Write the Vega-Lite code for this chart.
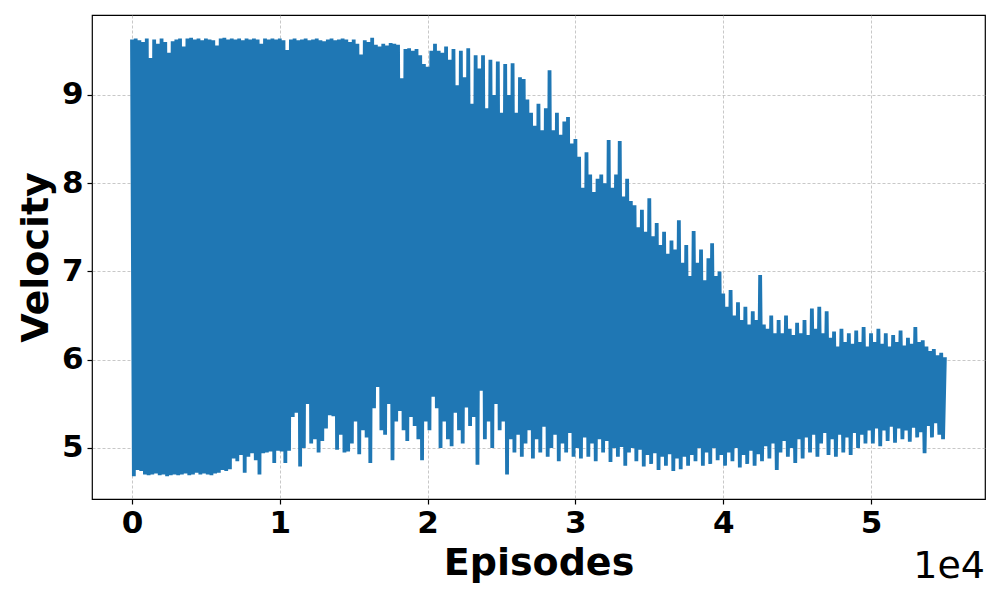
{
  "$schema": "https://vega.github.io/schema/vega-lite/v6.json",
  "autosize": {"type": "none"},
  "padding": {"left": 92, "top": 15, "right": 15, "bottom": 101},
  "width": 893,
  "height": 484,
  "background": "white",
  "title": {"text": "1e4", "orient": "bottom", "anchor": "end", "fontSize": 38, "fontWeight": "normal", "font": "DejaVu Sans", "color": "black", "offset": -34},
  "config": {
    "view": {"stroke": "black", "strokeWidth": 1.2},
    "axis": {
      "labelFont": "DejaVu Sans", "labelFontWeight": "bold", "labelFontSize": 31, "labelColor": "black",
      "titleFont": "DejaVu Sans", "titleFontWeight": "bold", "titleFontSize": 38, "titleColor": "black",
      "tickColor": "black", "tickSize": 5, "tickWidth": 1.2, "labelPadding": 4,
      "domain": false,
      "grid": true, "gridColor": "#b0b0b0", "gridDash": [3, 2], "gridWidth": 0.7
    }
  },
  "data": {"values": [
{"e":0,"v":9.63},{"e":125,"v":4.68},{"e":250,"v":9.64},{"e":375,"v":4.75},{"e":500,"v":9.62},{"e":625,"v":4.74},{"e":750,"v":9.6},{"e":875,"v":4.7},{"e":1000,"v":9.64},{"e":1125,"v":4.69},
{"e":1250,"v":9.42},{"e":1375,"v":4.7},{"e":1500,"v":9.63},{"e":1625,"v":4.71},{"e":1750,"v":9.58},{"e":1875,"v":4.69},{"e":2000,"v":9.64},{"e":2125,"v":4.7},{"e":2250,"v":9.6},{"e":2375,"v":4.68},
{"e":2500,"v":9.48},{"e":2625,"v":4.69},{"e":2750,"v":9.61},{"e":2875,"v":4.7},{"e":3000,"v":9.63},{"e":3125,"v":4.69},{"e":3250,"v":9.64},{"e":3375,"v":4.7},{"e":3500,"v":9.55},{"e":3625,"v":4.71},
{"e":3750,"v":9.64},{"e":3875,"v":4.69},{"e":4000,"v":9.65},{"e":4125,"v":4.7},{"e":4250,"v":9.63},{"e":4375,"v":4.72},{"e":4500,"v":9.64},{"e":4625,"v":4.7},{"e":4750,"v":9.62},{"e":4875,"v":4.71},
{"e":5000,"v":9.64},{"e":5125,"v":4.7},{"e":5250,"v":9.63},{"e":5375,"v":4.69},{"e":5500,"v":9.62},{"e":5625,"v":4.71},{"e":5750,"v":9.56},{"e":5875,"v":4.72},{"e":6000,"v":9.64},{"e":6125,"v":4.75},
{"e":6250,"v":9.65},{"e":6375,"v":4.74},{"e":6500,"v":9.63},{"e":6625,"v":4.76},{"e":6750,"v":9.64},{"e":6875,"v":4.88},{"e":7000,"v":9.63},{"e":7125,"v":4.85},{"e":7250,"v":9.64},{"e":7375,"v":4.92},
{"e":7500,"v":9.62},{"e":7625,"v":4.72},{"e":7750,"v":9.64},{"e":7875,"v":4.9},{"e":8000,"v":9.63},{"e":8125,"v":4.94},{"e":8250,"v":9.64},{"e":8375,"v":4.86},{"e":8500,"v":9.63},{"e":8625,"v":4.7},
{"e":8750,"v":9.58},{"e":8875,"v":4.94},{"e":9000,"v":9.64},{"e":9125,"v":4.95},{"e":9250,"v":9.63},{"e":9375,"v":4.96},{"e":9500,"v":9.64},{"e":9625,"v":4.83},{"e":9750,"v":9.63},{"e":9875,"v":4.97},
{"e":10000,"v":9.64},{"e":10125,"v":4.96},{"e":10250,"v":9.62},{"e":10375,"v":4.83},{"e":10500,"v":9.51},{"e":10625,"v":4.97},{"e":10750,"v":9.63},{"e":10875,"v":5.35},{"e":11000,"v":9.64},{"e":11125,"v":5.4},
{"e":11250,"v":9.62},{"e":11375,"v":4.79},{"e":11500,"v":9.63},{"e":11625,"v":5.0},{"e":11750,"v":9.64},{"e":11875,"v":5.5},{"e":12000,"v":9.62},{"e":12125,"v":5.05},{"e":12250,"v":9.63},{"e":12375,"v":5.1},
{"e":12500,"v":9.64},{"e":12625,"v":4.95},{"e":12750,"v":9.62},{"e":12875,"v":5.08},{"e":13000,"v":9.61},{"e":13125,"v":5.22},{"e":13250,"v":9.63},{"e":13375,"v":5.37},{"e":13500,"v":9.64},{"e":13625,"v":5.36},
{"e":13750,"v":9.62},{"e":13875,"v":4.98},{"e":14000,"v":9.63},{"e":14125,"v":5.15},{"e":14250,"v":9.64},{"e":14375,"v":4.95},{"e":14500,"v":9.63},{"e":14625,"v":4.96},{"e":14750,"v":9.6},{"e":14875,"v":5.05},
{"e":15000,"v":9.63},{"e":15125,"v":5.3},{"e":15250,"v":9.58},{"e":15375,"v":4.93},{"e":15500,"v":9.46},{"e":15625,"v":5.2},{"e":15750,"v":9.62},{"e":15875,"v":5.12},{"e":16000,"v":9.6},{"e":16125,"v":4.83},
{"e":16250,"v":9.65},{"e":16375,"v":5.45},{"e":16500,"v":9.57},{"e":16625,"v":5.69},{"e":16750,"v":9.55},{"e":16875,"v":5.2},{"e":17000,"v":9.58},{"e":17125,"v":5.15},{"e":17250,"v":9.56},{"e":17375,"v":5.5},
{"e":17500,"v":9.59},{"e":17625,"v":4.86},{"e":17750,"v":9.58},{"e":17875,"v":5.3},{"e":18000,"v":9.57},{"e":18125,"v":5.42},{"e":18250,"v":9.19},{"e":18375,"v":5.2},{"e":18500,"v":9.52},{"e":18625,"v":5.08},
{"e":18750,"v":9.53},{"e":18875,"v":5.35},{"e":19000,"v":9.5},{"e":19125,"v":5.25},{"e":19250,"v":9.52},{"e":19375,"v":5.1},{"e":19500,"v":9.45},{"e":19625,"v":4.86},{"e":19750,"v":9.35},{"e":19875,"v":5.3},
{"e":20000,"v":9.32},{"e":20125,"v":5.2},{"e":20250,"v":9.5},{"e":20375,"v":5.58},{"e":20500,"v":9.58},{"e":20625,"v":5.45},{"e":20750,"v":9.5},{"e":20875,"v":5.0},{"e":21000,"v":9.48},{"e":21125,"v":5.3},
{"e":21250,"v":9.55},{"e":21375,"v":5.1},{"e":21500,"v":9.4},{"e":21625,"v":5.02},{"e":21750,"v":9.52},{"e":21875,"v":5.4},{"e":22000,"v":9.11},{"e":22125,"v":5.2},{"e":22250,"v":9.5},{"e":22375,"v":5.05},
{"e":22500,"v":9.2},{"e":22625,"v":5.46},{"e":22750,"v":9.53},{"e":22875,"v":5.25},{"e":23000,"v":8.9},{"e":23125,"v":5.35},{"e":23250,"v":9.45},{"e":23375,"v":4.81},{"e":23500,"v":9.3},{"e":23625,"v":5.65},
{"e":23750,"v":9.45},{"e":23875,"v":5.1},{"e":24000,"v":8.85},{"e":24125,"v":5.3},{"e":24250,"v":9.4},{"e":24375,"v":5.0},{"e":24500,"v":9.0},{"e":24625,"v":5.5},{"e":24750,"v":9.38},{"e":24875,"v":5.2},
{"e":25000,"v":8.8},{"e":25125,"v":5.3},{"e":25250,"v":9.35},{"e":25375,"v":4.7},{"e":25500,"v":9.0},{"e":25625,"v":5.1},{"e":25750,"v":9.36},{"e":25875,"v":4.95},{"e":26000,"v":8.8},{"e":26125,"v":5.15},
{"e":26250,"v":9.2},{"e":26375,"v":4.9},{"e":26500,"v":9.18},{"e":26625,"v":5.05},{"e":26750,"v":8.95},{"e":26875,"v":5.2},{"e":27000,"v":8.8},{"e":27125,"v":4.88},{"e":27250,"v":8.65},{"e":27375,"v":5.1},
{"e":27500,"v":8.9},{"e":27625,"v":4.95},{"e":27750,"v":8.6},{"e":27875,"v":5.24},{"e":28000,"v":8.85},{"e":28125,"v":4.9},{"e":28250,"v":9.28},{"e":28375,"v":5.0},{"e":28500,"v":8.6},{"e":28625,"v":5.15},
{"e":28750,"v":8.8},{"e":28875,"v":4.85},{"e":29000,"v":8.55},{"e":29125,"v":5.05},{"e":29250,"v":8.7},{"e":29375,"v":4.95},{"e":29500,"v":8.75},{"e":29625,"v":5.17},{"e":29750,"v":8.45},{"e":29875,"v":4.9},
{"e":30000,"v":8.5},{"e":30125,"v":5.0},{"e":30250,"v":8.3},{"e":30375,"v":4.88},{"e":30500,"v":7.95},{"e":30625,"v":5.12},{"e":30750,"v":8.35},{"e":30875,"v":4.9},{"e":31000,"v":8.1},{"e":31125,"v":5.05},
{"e":31250,"v":7.9},{"e":31375,"v":4.85},{"e":31500,"v":8.05},{"e":31625,"v":5.1},{"e":31750,"v":8.1},{"e":31875,"v":4.95},{"e":32000,"v":8.0},{"e":32125,"v":5.08},{"e":32250,"v":8.49},{"e":32375,"v":4.84},
{"e":32500,"v":7.95},{"e":32625,"v":5.0},{"e":32750,"v":8.1},{"e":32875,"v":4.9},{"e":33000,"v":8.48},{"e":33125,"v":5.01},{"e":33250,"v":7.85},{"e":33375,"v":4.8},{"e":33500,"v":8.05},{"e":33625,"v":4.95},
{"e":33750,"v":7.8},{"e":33875,"v":5.0},{"e":34000,"v":7.75},{"e":34125,"v":4.85},{"e":34250,"v":7.5},{"e":34375,"v":4.98},{"e":34500,"v":7.7},{"e":34625,"v":4.79},{"e":34750,"v":7.45},{"e":34875,"v":4.92},
{"e":35000,"v":7.83},{"e":35125,"v":4.82},{"e":35250,"v":7.4},{"e":35375,"v":4.94},{"e":35500,"v":7.55},{"e":35625,"v":4.75},{"e":35750,"v":7.3},{"e":35875,"v":4.9},{"e":36000,"v":7.45},{"e":36125,"v":4.8},
{"e":36250,"v":7.2},{"e":36375,"v":4.93},{"e":36500,"v":7.35},{"e":36625,"v":4.74},{"e":36750,"v":7.25},{"e":36875,"v":4.88},{"e":37000,"v":7.58},{"e":37125,"v":4.76},{"e":37250,"v":7.1},{"e":37375,"v":4.9},
{"e":37500,"v":7.3},{"e":37625,"v":4.8},{"e":37750,"v":6.95},{"e":37875,"v":4.92},{"e":38000,"v":7.46},{"e":38125,"v":4.85},{"e":38250,"v":7.1},{"e":38375,"v":5.0},{"e":38500,"v":7.25},{"e":38625,"v":4.8},
{"e":38750,"v":6.9},{"e":38875,"v":4.95},{"e":39000,"v":7.15},{"e":39125,"v":4.82},{"e":39250,"v":7.32},{"e":39375,"v":5.0},{"e":39500,"v":6.95},{"e":39625,"v":4.86},{"e":39750,"v":7.0},{"e":39875,"v":4.92},
{"e":40000,"v":6.75},{"e":40125,"v":4.8},{"e":40250,"v":6.6},{"e":40375,"v":4.95},{"e":40500,"v":6.79},{"e":40625,"v":4.85},{"e":40750,"v":6.5},{"e":40875,"v":5.0},{"e":41000,"v":6.65},{"e":41125,"v":4.78},
{"e":41250,"v":6.45},{"e":41375,"v":4.92},{"e":41500,"v":6.6},{"e":41625,"v":4.82},{"e":41750,"v":6.4},{"e":41875,"v":4.97},{"e":42000,"v":6.55},{"e":42125,"v":4.8},{"e":42250,"v":6.45},{"e":42375,"v":4.93},
{"e":42500,"v":6.96},{"e":42625,"v":4.85},{"e":42750,"v":6.4},{"e":42875,"v":5.02},{"e":43000,"v":6.35},{"e":43125,"v":4.88},{"e":43250,"v":6.5},{"e":43375,"v":5.05},{"e":43500,"v":6.3},{"e":43625,"v":4.75},
{"e":43750,"v":6.45},{"e":43875,"v":4.95},{"e":44000,"v":6.3},{"e":44125,"v":5.08},{"e":44250,"v":6.5},{"e":44375,"v":4.9},{"e":44500,"v":6.35},{"e":44625,"v":5.0},{"e":44750,"v":6.28},{"e":44875,"v":4.83},
{"e":45000,"v":6.42},{"e":45125,"v":5.1},{"e":45250,"v":6.3},{"e":45375,"v":4.88},{"e":45500,"v":6.45},{"e":45625,"v":5.12},{"e":45750,"v":6.28},{"e":45875,"v":4.95},{"e":46000,"v":6.58},{"e":46125,"v":5.15},
{"e":46250,"v":6.35},{"e":46375,"v":4.9},{"e":46500,"v":6.6},{"e":46625,"v":5.05},{"e":46750,"v":6.3},{"e":46875,"v":5.17},{"e":47000,"v":6.55},{"e":47125,"v":4.92},{"e":47250,"v":6.25},{"e":47375,"v":5.1},
{"e":47500,"v":6.32},{"e":47625,"v":4.9},{"e":47750,"v":6.15},{"e":47875,"v":5.15},{"e":48000,"v":6.35},{"e":48125,"v":4.95},{"e":48250,"v":6.2},{"e":48375,"v":5.12},{"e":48500,"v":6.3},{"e":48625,"v":4.92},
{"e":48750,"v":6.18},{"e":48875,"v":5.17},{"e":49000,"v":6.33},{"e":49125,"v":5.0},{"e":49250,"v":6.2},{"e":49375,"v":5.15},{"e":49500,"v":6.37},{"e":49625,"v":5.05},{"e":49750,"v":6.15},{"e":49875,"v":5.2},
{"e":50000,"v":6.3},{"e":50125,"v":5.05},{"e":50250,"v":6.2},{"e":50375,"v":5.22},{"e":50500,"v":6.35},{"e":50625,"v":5.02},{"e":50750,"v":6.18},{"e":50875,"v":5.2},{"e":51000,"v":6.3},{"e":51125,"v":5.08},
{"e":51250,"v":6.15},{"e":51375,"v":5.24},{"e":51500,"v":6.28},{"e":51625,"v":5.06},{"e":51750,"v":6.2},{"e":51875,"v":5.22},{"e":52000,"v":6.33},{"e":52125,"v":5.1},{"e":52250,"v":6.16},{"e":52375,"v":5.2},
{"e":52500,"v":6.25},{"e":52625,"v":5.07},{"e":52750,"v":6.18},{"e":52875,"v":5.23},{"e":53000,"v":6.37},{"e":53125,"v":5.12},{"e":53250,"v":6.2},{"e":53375,"v":5.18},{"e":53500,"v":6.22},{"e":53625,"v":4.94},
{"e":53750,"v":6.15},{"e":53875,"v":5.25},{"e":54000,"v":6.1},{"e":54125,"v":5.12},{"e":54250,"v":6.12},{"e":54375,"v":5.28},{"e":54500,"v":6.05},{"e":54625,"v":5.15},{"e":54750,"v":6.08},{"e":54875,"v":5.1},
{"e":55000,"v":6.03}
  ]},
  "mark": {"type": "line", "color": "#1f77b4", "strokeWidth": 3.8, "strokeJoin": "bevel", "strokeCap": "butt"},
  "encoding": {
    "x": {
      "field": "e", "type": "quantitative",
      "scale": {"domain": [-2706, 57713], "nice": false, "zero": false},
      "axis": {"title": "Episodes", "values": [0, 10000, 20000, 30000, 40000, 50000], "labelExpr": "datum.value / 10000", "titlePadding": 6}
    },
    "y": {
      "field": "v", "type": "quantitative",
      "scale": {"domain": [4.422, 9.9065], "nice": false, "zero": false},
      "axis": {"title": "Velocity", "values": [5, 6, 7, 8, 9], "titlePadding": 6}
    }
  }
}
